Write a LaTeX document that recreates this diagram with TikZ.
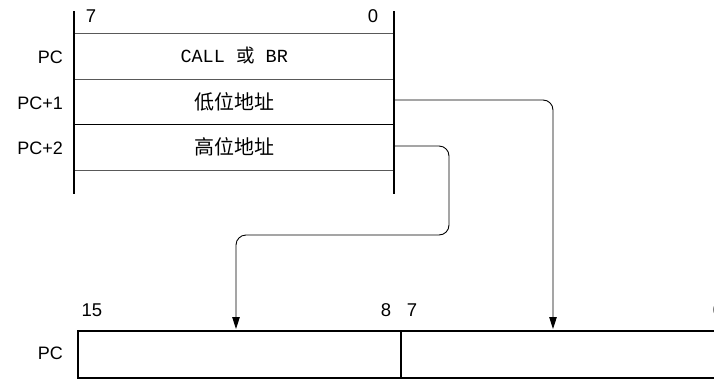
\documentclass[tikz,border=0pt]{standalone}
\usepackage{fontspec}
\setmainfont{Liberation Sans}
\newfontfamily\cjk{Noto Sans CJK SC}
\newfontfamily\monofnt{Liberation Mono}
\usetikzlibrary{arrows.meta}
\begin{document}
\begin{tikzpicture}[x=1pt,y=-1pt,
  rowbox/.style={draw=none,minimum width=320pt,minimum height=45.5pt,inner sep=0pt,anchor=north west},
  sep/.style={draw=black!65,line width=1pt},
  rail/.style={line width=2pt},
  lbl/.style={font=\fontsize{18}{18}\selectfont,inner sep=0pt},
  bit/.style={font=\fontsize{18.5}{18.5}\selectfont,inner sep=0pt},
  zh/.style={font=\cjk\fontsize{20}{20}\selectfont,inner sep=0pt},
  conn/.style={line width=0.9pt,rounded corners=10pt},
  tip/.style={-{Triangle[length=12pt,width=7.5pt]}},
  half/.style={draw,line width=1.5pt,inner sep=0pt,anchor=north west,minimum height=47pt}]
\useasboundingbox (0,0) rectangle (714,378);
% top memory rows
\node[rowbox] (r1) at (74,33) {};
\node[rowbox] (r2) at (74,79) {};
\node[rowbox] (r3) at (74,124) {};
\node[rowbox] (r4) at (74,170) {};
\draw[sep] (r1.north west) -- (r1.north east);
\draw[sep] (r2.north west) -- (r2.north east);
\draw[line width=1pt] (r3.north west) -- (r3.north east);
\draw[sep] (r4.north west) -- (r4.north east);
\coordinate (tl) at (74,11);
\coordinate (bl) at (74,194);
\coordinate (tr) at (394,11);
\coordinate (br) at (394,194);
\draw[rail] (tl) -- (bl);
\draw[rail] (tr) -- (br);
\node[bit] (b7) at (91,16) {7};
\node[bit] (b0) at (373,16) {0};
\node[lbl,anchor=east] (lpc) at (63,57) {PC};
\node[lbl,anchor=east] (lpc1) at (63,103) {PC+1};
\node[lbl,anchor=east] (lpc2) at (63,148) {PC+2};
\node[font=\monofnt\fontsize{18.5}{18.5}\selectfont,inner sep=0pt] (t1) at (r1.center) {CALL {\cjk 或} BR};
\node[zh] (t2) at (r2.center) {低位地址};
\node[zh] (t3) at (r3.center) {高位地址};
% bottom register
\node[half,minimum width=323pt] (hi) at (77,330) {};
\node[half,minimum width=330pt] (lo) at (400,330) {};
\node[bit] (b15) at (92,310) {15};
\node[bit] (b8) at (386,310) {8};
\node[bit] (b7b) at (412,310) {7};
\node[bit] (b0b) at (718,310) {0};
\node[lbl,anchor=east] (lpcb) at (63,353) {PC};
% connectors
\coordinate (a1) at (553,329);
\coordinate (a2) at (236,329);
\draw[conn,tip] (394,100) -- (553,100) -- (a1);
\draw[conn,tip] (394,146) -- (449,146) -- (449,235) -- (236,235) -- (a2);
\end{tikzpicture}
\end{document}
